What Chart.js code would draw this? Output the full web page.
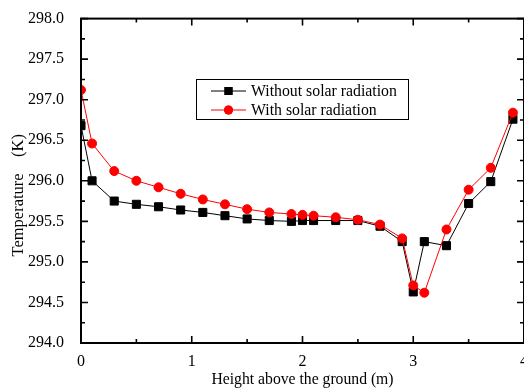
<!DOCTYPE html>
<html>
<head>
<meta charset="utf-8">
<script src="https://cdn.jsdelivr.net/npm/chart.js@4"></script>
<style>
  html, body { margin: 0; padding: 0; background: #fff; overflow: hidden; }
  #wrap { position: relative; width: 540px; height: 392px; }
</style>
</head>
<body>
<div id="wrap"><canvas id="tempChart" width="540" height="392"></canvas></div>
<script>
// Heights above the ground (m)
const heights = [0, 0.1, 0.3, 0.5, 0.7, 0.9, 1.1, 1.3, 1.5, 1.7, 1.9, 2.0, 2.1,
  2.3, 2.5, 2.7, 2.9, 3.0, 3.1, 3.3, 3.5, 3.7, 3.9];

// Temperature (K)
const withoutSolar = [296.68, 296.0, 295.75, 295.71, 295.68, 295.64, 295.61, 295.57,
  295.53, 295.51, 295.50, 295.51, 295.51, 295.51, 295.51, 295.44, 295.25, 294.63,
  295.25, 295.20, 295.72, 295.99, 296.76];
const withSolar = [297.12, 296.46, 296.12, 296.0, 295.92, 295.84, 295.77, 295.71,
  295.65, 295.61, 295.59, 295.58, 295.57, 295.55, 295.52, 295.46, 295.29, 294.71,
  294.62, 295.40, 295.89, 296.16, 296.84];

const seriesNames = ['Without solar radiation', 'With solar radiation'];
const serif = 'Liberation Serif, Times New Roman, serif';

function toPoints(xs, ys) {
  return xs.map((x, i) => ({ x: x, y: ys[i] }));
}

// frame with inward major/minor ticks on all sides
const frameTicks = {
  id: 'frameTicks',
  afterDatasetsDraw(chart) {
    const { ctx, chartArea: a, scales: { x, y } } = chart;
    ctx.save();
    ctx.strokeStyle = '#000';
    ctx.lineWidth = 1.6;
    for (let v = 0; v <= 4.001; v += 0.5) {
      const px = x.getPixelForValue(v);
      const len = Math.abs(v % 1) < 0.01 ? 7 : 4;
      ctx.beginPath();
      ctx.moveTo(px, a.bottom); ctx.lineTo(px, a.bottom - len);
      ctx.moveTo(px, a.top); ctx.lineTo(px, a.top + len);
      ctx.stroke();
    }
    for (let v = 294; v <= 298.001; v += 0.25) {
      const py = y.getPixelForValue(v);
      const len = Math.abs((v * 2) % 1) < 0.01 ? 7 : 4;
      ctx.beginPath();
      ctx.moveTo(a.left, py); ctx.lineTo(a.left + len, py);
      ctx.moveTo(a.right, py); ctx.lineTo(a.right - len, py);
      ctx.stroke();
    }
    ctx.lineWidth = 2;
    ctx.strokeRect(a.left, a.top, a.right - a.left, a.bottom - a.top);
    ctx.restore();
  }
};

// boxed legend inside the plot
const boxLegend = {
  id: 'boxLegend',
  afterDraw(chart) {
    const ctx = chart.ctx;
    const bx = 196.5, by = 79.5, bw = 212, bh = 40;
    ctx.save();
    ctx.strokeStyle = '#000';
    ctx.lineWidth = 1;
    ctx.strokeRect(bx, by, bw, bh);
    const order = [1, 0];
    const rows = [91, 110];
    order.forEach((dsIndex, r) => {
      const ds = chart.data.datasets[dsIndex];
      const yy = rows[r];
      ctx.strokeStyle = ds.borderColor;
      ctx.lineWidth = 1;
      ctx.beginPath();
      ctx.moveTo(211, yy); ctx.lineTo(246, yy);
      ctx.stroke();
      ctx.fillStyle = ds.pointBackgroundColor;
      Chart.helpers.drawPoint(ctx, {
        pointStyle: ds.pointStyle, radius: ds.pointRadius, borderWidth: 0
      }, 228.5, yy);
      ctx.fill();
      ctx.fillStyle = '#000';
      ctx.font = '15.8px ' + serif;
      ctx.textBaseline = 'middle';
      ctx.fillText(ds.label, 251, yy + 1);
    });
    ctx.restore();
  }
};

const ctx = document.getElementById('tempChart').getContext('2d');
new Chart(ctx, {
  type: 'line',
  data: {
    datasets: [{
      label: seriesNames[1],
      data: toPoints(heights, withSolar),
      borderColor: '#ff0000',
      backgroundColor: '#ff0000',
      pointBackgroundColor: '#ff0000',
      pointBorderColor: '#ff0000',
      pointStyle: 'circle',
      pointRadius: 4.5,
      borderWidth: 1,
      order: 1
    }, {
      label: seriesNames[0],
      data: toPoints(heights, withoutSolar),
      borderColor: '#000000',
      backgroundColor: '#000000',
      pointBackgroundColor: '#000000',
      pointBorderColor: '#000000',
      pointStyle: 'rect',
      pointRadius: 5.7,
      borderWidth: 1,
      order: 2
    }]
  },
  options: {
    responsive: false,
    animation: false,
    devicePixelRatio: 1,
    layout: { padding: { top: 16, right: 16, left: 0, bottom: 0 } },
    plugins: { legend: { display: false }, tooltip: { enabled: false } },
    elements: { line: { tension: 0 }, point: { borderWidth: 0 } },
    scales: {
      x: {
        type: 'linear',
        min: 0,
        max: 4,
        grid: { display: false },
        border: { display: false },
        ticks: {
          stepSize: 1,
          padding: 1,
          color: '#000',
          maxRotation: 0,
          font: { family: serif, size: 16 }
        },
        title: {
          display: true,
          text: 'Height above the ground (m)',
          color: '#000',
          font: { family: serif, size: 15.7 },
          padding: { top: 0, bottom: 3 }
        },
        afterFit(scale) { scale.height = 49; }
      },
      y: {
        min: 294,
        max: 298,
        grid: { display: false },
        border: { display: false },
        ticks: {
          stepSize: 0.5,
          padding: 9,
          color: '#000',
          font: { family: serif, size: 16 },
          callback: v => Number(v).toFixed(1)
        },
        title: {
          display: true,
          // trailing spaces push the label a little below the axis centre, as in the original
          text: 'Temperature    (K)       ',
          color: '#000',
          font: { family: serif, size: 16.5 },
          padding: { top: 9, bottom: 0 }
        },
        afterFit(scale) { scale.width = 81; }
      }
    }
  },
  plugins: [frameTicks, boxLegend]
});
</script>
</body>
</html>
